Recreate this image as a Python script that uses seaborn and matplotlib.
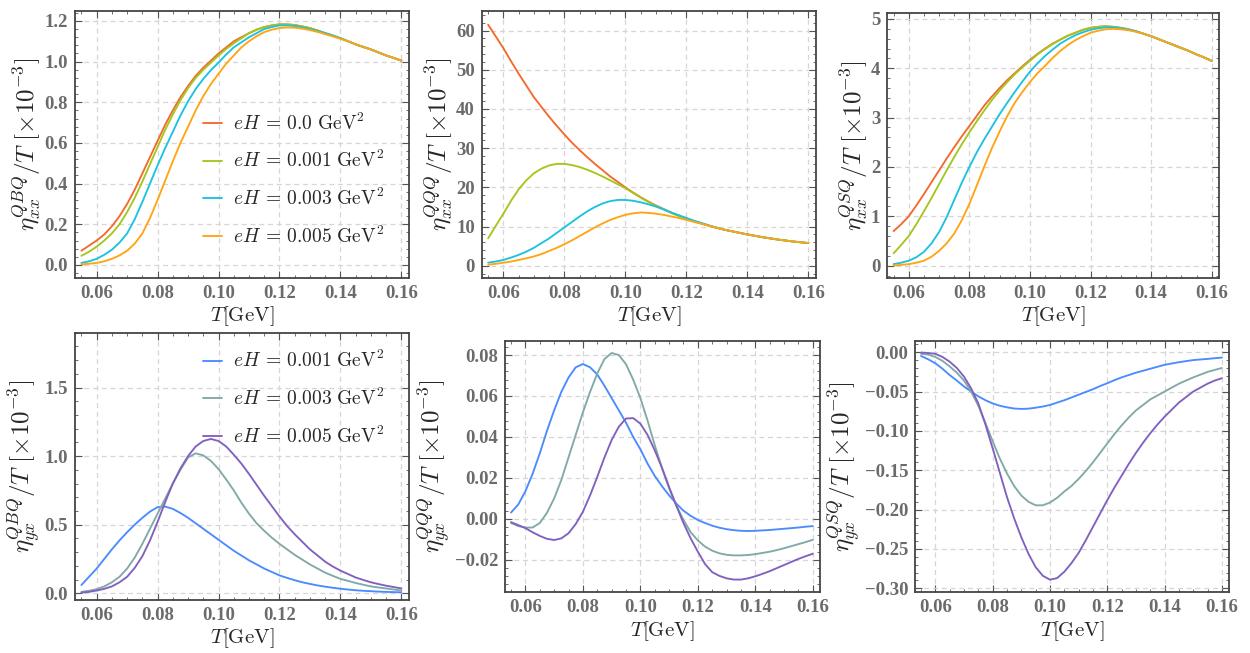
import numpy as np
import pandas as pd
import matplotlib
matplotlib.use("Agg")
import matplotlib.pyplot as plt
import seaborn as sns
from matplotlib.ticker import AutoMinorLocator, FuncFormatter, MultipleLocator

# temperatura (GeV)
T_GEV = [0.0550, 0.0575, 0.0600, 0.0625, 0.0650, 0.0675, 0.0700, 0.0725, 0.0750, 0.0775,
         0.0800, 0.0825, 0.0850, 0.0875, 0.0900, 0.0925, 0.0950, 0.0975, 0.1000, 0.1025,
         0.1050, 0.1075, 0.1100, 0.1125, 0.1150, 0.1175, 0.1200, 0.1225, 0.1250, 0.1275,
         0.1300, 0.1325, 0.1350, 0.1375, 0.1400, 0.1425, 0.1450, 0.1475, 0.1500, 0.1525,
         0.1550, 0.1575, 0.1600]

LABELS_XX = [r"$eH\:=\,0.0\ \mathrm{GeV}^2$", r"$eH\:=\,0.001\ \mathrm{GeV}^2$",
             r"$eH\:=\,0.003\ \mathrm{GeV}^2$", r"$eH\:=\,0.005\ \mathrm{GeV}^2$"]
LABELS_YX = LABELS_XX[1:]

# eta_xx^QBQ / T
qbq_xx_00 = [0.07, 0.095, 0.12, 0.15, 0.19, 0.24, 0.30, 0.37, 0.45, 0.53,
             0.61, 0.69, 0.76, 0.825, 0.88, 0.93, 0.97, 1.005, 1.04, 1.07,
             1.10, 1.12, 1.14, 1.157, 1.17, 1.178, 1.183, 1.183, 1.18, 1.173,
             1.165, 1.153, 1.14, 1.128, 1.115, 1.10, 1.085, 1.072, 1.06, 1.045,
             1.03, 1.018, 1.005]
qbq_xx_01 = [0.045, 0.065, 0.09, 0.12, 0.155, 0.20, 0.26, 0.33, 0.41, 0.495,
             0.58, 0.665, 0.74, 0.81, 0.87, 0.92, 0.96, 0.995, 1.03, 1.062,
             1.09, 1.115, 1.14, 1.157, 1.17, 1.178, 1.183, 1.183, 1.18, 1.173,
             1.165, 1.153, 1.14, 1.128, 1.115, 1.10, 1.085, 1.072, 1.06, 1.045,
             1.03, 1.018, 1.005]
qbq_xx_03 = [0.01, 0.018, 0.03, 0.05, 0.075, 0.11, 0.155, 0.225, 0.31, 0.40,
             0.49, 0.575, 0.655, 0.735, 0.805, 0.865, 0.915, 0.958, 0.995, 1.035,
             1.07, 1.095, 1.12, 1.14, 1.16, 1.17, 1.178, 1.178, 1.175, 1.169,
             1.16, 1.15, 1.14, 1.128, 1.115, 1.10, 1.085, 1.072, 1.06, 1.045,
             1.03, 1.018, 1.005]
qbq_xx_05 = [0.003, 0.006, 0.01, 0.018, 0.03, 0.047, 0.07, 0.105, 0.155, 0.23,
             0.32, 0.415, 0.51, 0.60, 0.68, 0.76, 0.83, 0.89, 0.94, 0.99,
             1.03, 1.07, 1.10, 1.125, 1.145, 1.157, 1.165, 1.168, 1.167, 1.162,
             1.155, 1.146, 1.135, 1.124, 1.112, 1.10, 1.085, 1.072, 1.06, 1.045,
             1.03, 1.018, 1.005]

# eta_xx^QQQ / T
qqq_xx_00 = [61.5, 58.5, 55.5, 52.2, 49.0, 46.0, 43.0, 40.5, 38.0, 35.7,
             33.5, 31.4, 29.5, 27.7, 26.0, 24.4, 22.8, 21.4, 20.0, 18.7,
             17.5, 16.4, 15.4, 14.5, 13.6, 12.8, 12.1, 11.4, 10.8, 10.2,
             9.7, 9.2, 8.8, 8.4, 8.0, 7.65, 7.3, 7.0, 6.7, 6.45,
             6.2, 6.0, 5.8]
qqq_xx_01 = [7.0, 10.2, 13.3, 16.6, 19.5, 21.8, 23.6, 24.8, 25.6, 26.0,
             26.0, 25.7, 25.2, 24.5, 23.7, 22.8, 21.8, 20.8, 19.8, 18.6,
             17.4, 16.3, 15.3, 14.4, 13.5, 12.7, 12.0, 11.4, 10.8, 10.2,
             9.7, 9.2, 8.8, 8.4, 8.0, 7.65, 7.3, 7.0, 6.7, 6.45,
             6.2, 6.0, 5.8]
qqq_xx_03 = [0.8, 1.1, 1.5, 2.1, 2.8, 3.6, 4.6, 5.8, 7.0, 8.4,
             9.8, 11.2, 12.6, 13.9, 15.0, 15.9, 16.5, 16.8, 16.8, 16.6,
             16.2, 15.7, 15.1, 14.4, 13.6, 12.9, 12.2, 11.5, 10.9, 10.3,
             9.7, 9.2, 8.8, 8.4, 8.0, 7.65, 7.3, 7.0, 6.7, 6.45,
             6.2, 6.0, 5.8]
qqq_xx_05 = [0.3, 0.5, 0.8, 1.1, 1.5, 1.9, 2.4, 3.0, 3.8, 4.6,
             5.5, 6.5, 7.6, 8.7, 9.8, 10.8, 11.7, 12.4, 13.0, 13.4,
             13.6, 13.5, 13.3, 13.0, 12.6, 12.2, 11.7, 11.2, 10.7, 10.2,
             9.7, 9.2, 8.8, 8.4, 8.0, 7.65, 7.3, 7.0, 6.7, 6.45,
             6.2, 6.0, 5.8]

# eta_xx^QSQ / T
qsq_xx_00 = [0.70, 0.84, 1.00, 1.22, 1.45, 1.69, 1.93, 2.17, 2.40, 2.62,
             2.83, 3.04, 3.25, 3.43, 3.60, 3.76, 3.90, 4.04, 4.17, 4.29,
             4.40, 4.50, 4.58, 4.66, 4.72, 4.78, 4.82, 4.84, 4.85, 4.84,
             4.82, 4.79, 4.75, 4.70, 4.65, 4.59, 4.53, 4.47, 4.41, 4.35,
             4.28, 4.22, 4.15]
qsq_xx_01 = [0.25, 0.42, 0.60, 0.84, 1.10, 1.37, 1.65, 1.93, 2.20, 2.46,
             2.70, 2.93, 3.15, 3.36, 3.55, 3.72, 3.88, 4.02, 4.15, 4.28,
             4.39, 4.49, 4.58, 4.66, 4.72, 4.78, 4.82, 4.84, 4.85, 4.84,
             4.82, 4.79, 4.75, 4.70, 4.65, 4.59, 4.53, 4.47, 4.41, 4.35,
             4.28, 4.22, 4.15]
qsq_xx_03 = [0.03, 0.06, 0.10, 0.17, 0.28, 0.45, 0.68, 0.98, 1.33, 1.68,
             2.00, 2.30, 2.57, 2.82, 3.07, 3.30, 3.52, 3.73, 3.93, 4.10,
             4.25, 4.38, 4.50, 4.59, 4.67, 4.73, 4.78, 4.81, 4.83, 4.83,
             4.81, 4.785, 4.75, 4.70, 4.65, 4.59, 4.53, 4.47, 4.41, 4.35,
             4.28, 4.22, 4.15]
qsq_xx_05 = [0.005, 0.015, 0.03, 0.06, 0.10, 0.18, 0.30, 0.45, 0.65, 0.92,
             1.25, 1.63, 2.02, 2.39, 2.72, 3.03, 3.30, 3.52, 3.72, 3.90,
             4.05, 4.21, 4.35, 4.47, 4.57, 4.65, 4.72, 4.76, 4.79, 4.80,
             4.79, 4.77, 4.74, 4.70, 4.65, 4.59, 4.53, 4.47, 4.41, 4.35,
             4.28, 4.22, 4.15]

# eta_yx^QBQ / T
qbq_yx_01 = [0.06, 0.12, 0.18, 0.25, 0.32, 0.385, 0.445, 0.50, 0.55, 0.595,
             0.628, 0.632, 0.615, 0.585, 0.55, 0.51, 0.47, 0.43, 0.39, 0.35,
             0.31, 0.275, 0.24, 0.21, 0.18, 0.155, 0.13, 0.112, 0.095, 0.08,
             0.068, 0.057, 0.048, 0.04, 0.033, 0.027, 0.022, 0.018, 0.015, 0.012,
             0.010, 0.008, 0.007]
qbq_yx_03 = [0.01, 0.018, 0.03, 0.05, 0.08, 0.12, 0.18, 0.26, 0.36, 0.47,
             0.58, 0.69, 0.80, 0.90, 0.99, 1.02, 1.005, 0.965, 0.905, 0.83,
             0.75, 0.66, 0.58, 0.51, 0.455, 0.405, 0.36, 0.32, 0.28, 0.245,
             0.21, 0.18, 0.15, 0.127, 0.105, 0.09, 0.075, 0.062, 0.05, 0.042,
             0.035, 0.027, 0.02]
qbq_yx_05 = [0.005, 0.01, 0.02, 0.032, 0.05, 0.08, 0.12, 0.185, 0.27, 0.385,
             0.52, 0.665, 0.80, 0.91, 1.00, 1.07, 1.11, 1.125, 1.11, 1.07,
             1.01, 0.945, 0.87, 0.79, 0.71, 0.635, 0.56, 0.49, 0.43, 0.375,
             0.32, 0.275, 0.23, 0.195, 0.165, 0.14, 0.115, 0.097, 0.08, 0.067,
             0.055, 0.045, 0.035]

# eta_yx^QQQ / T
qqq_yx_01 = [0.0031, 0.007, 0.0135, 0.022, 0.032, 0.043, 0.053, 0.062, 0.069, 0.074,
             0.0756, 0.074, 0.0705, 0.065, 0.059, 0.053, 0.047, 0.040, 0.034, 0.027,
             0.021, 0.016, 0.0115, 0.0075, 0.004, 0.0015, -0.0005, -0.002, -0.0033, -0.0043,
             -0.005, -0.0055, -0.0058, -0.0059, -0.0058, -0.0056, -0.0054, -0.0051, -0.0048, -0.0045,
             -0.0042, -0.0038, -0.0035]
qqq_yx_03 = [-0.002, -0.0035, -0.0042, -0.0042, -0.002, 0.003, 0.010, 0.019, 0.030, 0.041,
             0.052, 0.062, 0.071, 0.078, 0.081, 0.080, 0.0755, 0.068, 0.059, 0.048,
             0.036, 0.025, 0.015, 0.0065, -0.0005, -0.0065, -0.0105, -0.0135, -0.0155, -0.0168,
             -0.0175, -0.0178, -0.0178, -0.0176, -0.0172, -0.0166, -0.016, -0.0152, -0.0143, -0.0133,
             -0.0123, -0.0113, -0.0102]
qqq_yx_05 = [-0.0016, -0.003, -0.0045, -0.0065, -0.0083, -0.0097, -0.0103, -0.0095, -0.007, -0.0025,
             0.0035, 0.0115, 0.0205, 0.030, 0.0385, 0.045, 0.049, 0.0492, 0.0465, 0.041,
             0.0335, 0.025, 0.0155, 0.0065, -0.002, -0.0095, -0.016, -0.022, -0.026, -0.0278,
             -0.029, -0.0296, -0.0296, -0.029, -0.028, -0.0268, -0.0255, -0.024, -0.0225, -0.021,
             -0.0195, -0.0182, -0.017]

# eta_yx^QSQ / T
qsq_yx_01 = [-0.0047, -0.009, -0.014, -0.021, -0.029, -0.036, -0.0435, -0.050, -0.056, -0.061,
             -0.065, -0.068, -0.070, -0.0715, -0.072, -0.0717, -0.0705, -0.069, -0.067, -0.064,
             -0.061, -0.0575, -0.054, -0.0505, -0.047, -0.043, -0.0394, -0.0355, -0.032, -0.029,
             -0.026, -0.0235, -0.021, -0.0185, -0.016, -0.0143, -0.0127, -0.0113, -0.010, -0.0092,
             -0.0085, -0.0076, -0.0068]
qsq_yx_03 = [-0.002, -0.003, -0.006, -0.011, -0.018, -0.026, -0.036, -0.050, -0.068, -0.090,
             -0.113, -0.135, -0.154, -0.170, -0.182, -0.190, -0.1945, -0.1945, -0.191, -0.185,
             -0.177, -0.170, -0.161, -0.151, -0.140, -0.128, -0.116, -0.104, -0.093, -0.083,
             -0.074, -0.067, -0.060, -0.055, -0.050, -0.045, -0.040, -0.036, -0.032, -0.0285,
             -0.025, -0.0225, -0.020]
qsq_yx_05 = [-0.0004, -0.001, -0.002, -0.006, -0.012, -0.020, -0.031, -0.046, -0.065, -0.092,
             -0.122, -0.153, -0.184, -0.211, -0.235, -0.256, -0.273, -0.284, -0.289, -0.287,
             -0.279, -0.268, -0.255, -0.239, -0.222, -0.205, -0.188, -0.172, -0.157, -0.142,
             -0.128, -0.115, -0.103, -0.092, -0.082, -0.073, -0.064, -0.057, -0.050, -0.045,
             -0.040, -0.036, -0.033]

COLS_XX = ["#f4692c", "#a3c71c", "#1cc2e0", "#ffa512"]
COLS_YX = ["#4a8bff", "#80a9a7", "#8160c0"]

sns.set_theme(style="ticks")
plt.rcParams["mathtext.fontset"] = "cm"
plt.rcParams["font.family"] = ["DejaVu Serif"]

fig = plt.figure(figsize=(12.5, 6.53), dpi=100)


def long_df(series, labels):
    rows = []
    for vals, lab in zip(series, labels):
        for t, v in zip(T_GEV, vals):
            rows.append({"T": t, "val": v, "eH": lab})
    return pd.DataFrame(rows)


def fmt(dec):
    return FuncFormatter(lambda v, p: (f"{v:.{dec}f}").replace("-", "\u2212"))


panels = [
    # rect, series, labels, colors, ylabel, ylim, ystep, decimals
    ([0.060, 0.5743, 0.2672, 0.4089], [qbq_xx_00, qbq_xx_01, qbq_xx_03, qbq_xx_05], LABELS_XX, COLS_XX,
     r"$\eta^{QBQ}_{xx}/T\ [\times 10^{-3}]$", (-0.064, 1.249), 0.2, 1),
    ([0.3854, 0.5743, 0.2674, 0.4089], [qqq_xx_00, qqq_xx_01, qqq_xx_03, qqq_xx_05], LABELS_XX, COLS_XX,
     r"$\eta^{QQQ}_{xx}/T\ [\times 10^{-3}]$", (-3.1, 65.0), 10, 0),
    ([0.7098, 0.5743, 0.2656, 0.4054], [qsq_xx_00, qsq_xx_01, qsq_xx_03, qsq_xx_05], LABELS_XX, COLS_XX,
     r"$\eta^{QSQ}_{xx}/T\ [\times 10^{-3}]$", (-0.25, 5.115), 1, 0),
    ([0.060, 0.0812, 0.2672, 0.4094], [qbq_yx_01, qbq_yx_03, qbq_yx_05], LABELS_YX, COLS_YX,
     r"$\eta^{QBQ}_{yx}/T\ [\times 10^{-3}]$", (-0.049, 1.90), 0.5, 1),
    ([0.4040, 0.0930, 0.2520, 0.3853], [qqq_yx_01, qqq_yx_03, qqq_yx_05], LABELS_YX, COLS_YX,
     r"$\eta^{QQQ}_{yx}/T\ [\times 10^{-3}]$", (-0.0358, 0.087), 0.02, 2),
    ([0.7320, 0.0930, 0.2512, 0.3853], [qsq_yx_01, qsq_yx_03, qsq_yx_05], LABELS_YX, COLS_YX,
     r"$\eta^{QSQ}_{yx}/T\ [\times 10^{-3}]$", (-0.305, 0.0147), 0.05, 2),
]

for i, (rect, series, labels, cols, ylab, ylim, ystep, dec) in enumerate(panels):
    ax = fig.add_axes(rect)
    df = long_df(series, labels)
    sns.lineplot(data=df, x="T", y="val", hue="eH", palette=cols, ax=ax,
                 linewidth=1.35, legend=(i in (0, 3)))
    ax.set_xlim(0.0529, 0.1625)
    ax.set_ylim(*ylim)
    ax.xaxis.set_major_locator(MultipleLocator(0.02))
    ax.yaxis.set_major_locator(MultipleLocator(ystep))
    ax.xaxis.set_minor_locator(AutoMinorLocator(4))
    ax.yaxis.set_minor_locator(AutoMinorLocator(5))
    ax.xaxis.set_major_formatter(fmt(2))
    ax.yaxis.set_major_formatter(fmt(dec))
    ax.grid(True, which="major", linestyle=(0, (4, 3)), color="#d6d6d6", linewidth=0.9)
    ax.tick_params(which="both", direction="in", top=True, right=True, color="#555555")
    ax.tick_params(which="major", length=5, width=0.8, pad=5)
    ax.tick_params(which="minor", length=2.5, width=0.6)
    for lbl in ax.get_xticklabels() + ax.get_yticklabels():
        lbl.set_family("Liberation Serif")
        lbl.set_fontweight("bold")
        lbl.set_fontsize(13.5)
        lbl.set_color("#6b6b6b")
    for sp in ax.spines.values():
        sp.set_color("#444444")
        sp.set_linewidth(1.3)
    ax.set_xlabel(r"$T[\mathrm{GeV}]$", fontsize=15, labelpad=2)
    ax.set_ylabel(ylab, fontsize=18, labelpad=1)
    if i == 0:
        ax.legend(title=None, frameon=False, fontsize=14, loc="upper left",
                  bbox_to_anchor=(0.33, 0.686), labelspacing=0.85, handlelength=1.0,
                  handletextpad=0.55)
    elif i == 3:
        ax.legend(title=None, frameon=False, fontsize=14, loc="upper left",
                  bbox_to_anchor=(0.33, 1.0), labelspacing=0.85, handlelength=1.0,
                  handletextpad=0.55)

plt.savefig("out.png", dpi=100)
